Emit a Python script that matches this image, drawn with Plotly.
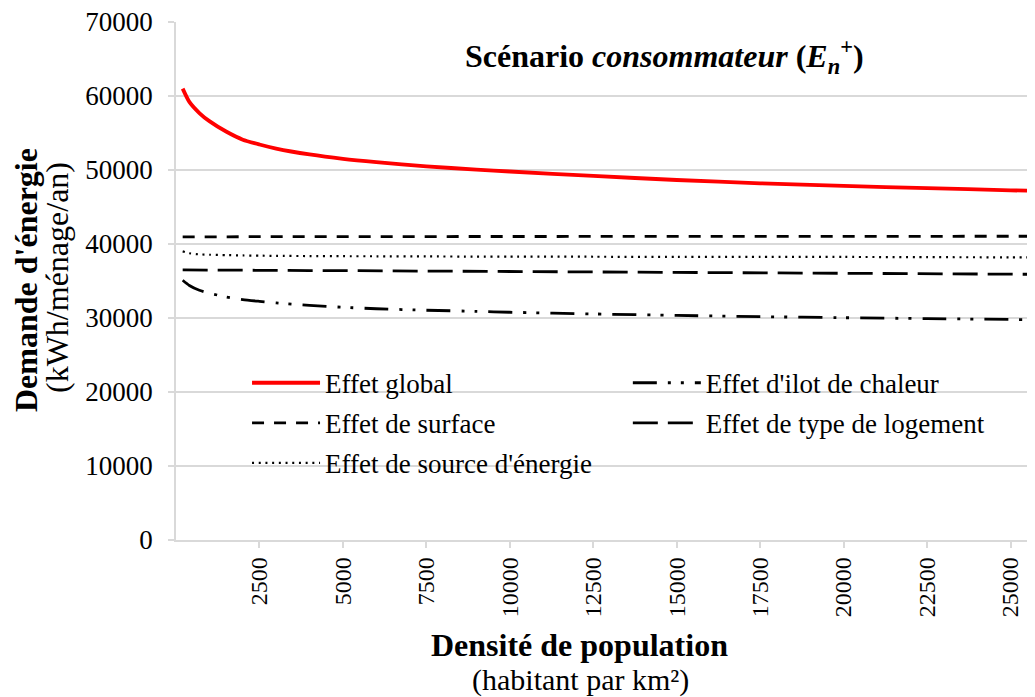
import plotly.graph_objects as go

# Population density (habitants per km2)
density = [200, 400, 700, 1000, 1500, 2000, 2500, 3000, 4000, 5000, 6000, 7500,
           9000, 10000, 12500, 15000, 17500, 20000, 22500, 25000, 26000]

# Energy demand (kWh/ménage/an)
effet_global = [61000, 59200, 57700, 56600, 55200, 54100, 53450, 52900, 52100, 51500, 51050, 50500,
                50050, 49800, 49200, 48650, 48200, 47850, 47550, 47250, 47150]
effet_ilot = [35100, 34400, 33750, 33350, 32850, 32480, 32250, 32050, 31700, 31450, 31250, 31050,
              30900, 30780, 30550, 30350, 30180, 30040, 29920, 29800, 29760]
effet_surface = [40950, 40960, 40970, 40980, 40980, 40990, 40990, 41000, 41000, 41000, 41010, 41010,
                 41020, 41020, 41030, 41030, 41040, 41040, 41050, 41050, 41050]
effet_logement = [36500, 36490, 36480, 36470, 36460, 36450, 36440, 36430, 36410, 36400, 36380, 36340,
                  36290, 36250, 36180, 36100, 36050, 36000, 35960, 35920, 35900]
effet_source = [39000, 38750, 38600, 38550, 38500, 38450, 38420, 38400, 38370, 38350, 38340, 38320,
                38300, 38300, 38280, 38250, 38250, 38250, 38220, 38200, 38200]

x_ticks = [2500, 5000, 7500, 10000, 12500, 15000, 17500, 20000, 22500, 25000]
y_ticks = [0, 10000, 20000, 30000, 40000, 50000, 60000, 70000]

FONT = "Liberation Serif"
GRID = "#d9d9d9"

fig = go.Figure()
fig.add_trace(go.Scatter(x=density, y=effet_global, mode="lines", name="Effet global",
                         legend="legend", legendgroup="g1",
                         line=dict(color="#ff0000", width=3.8, shape="spline", smoothing=0.6)))
fig.add_trace(go.Scatter(x=density, y=effet_ilot, mode="lines", name="Effet d'ilot de chaleur",
                         legend="legend2", legendgroup="g2",
                         line=dict(color="black", width=2.8, shape="spline", smoothing=0.6,
                                   dash="24px,11px,3px,10px,3px,11px")))
fig.add_trace(go.Scatter(x=density, y=effet_surface, mode="lines", name="Effet de surface",
                         legend="legend", legendgroup="g3",
                         line=dict(color="black", width=2.8, dash="12px,10px")))
fig.add_trace(go.Scatter(x=density, y=effet_logement, mode="lines", name="Effet de type de logement",
                         legend="legend2", legendgroup="g4",
                         line=dict(color="black", width=2.8, dash="25px,10px")))
fig.add_trace(go.Scatter(x=density, y=effet_source, mode="lines", name="Effet de source d'énergie",
                         legend="legend", legendgroup="g5",
                         line=dict(color="black", width=2.2, shape="spline", smoothing=0.6,
                                   dash="2px,4.7px")))

legend_common = dict(orientation="v", xanchor="left", yanchor="top", itemwidth=68,
                     font=dict(family=FONT, size=27, color="black"),
                     bgcolor="rgba(0,0,0,0)", tracegroupgap=2, traceorder="grouped")

fig.update_layout(
    width=1027, height=689,
    margin=dict(l=168, r=0, t=14, b=157),
    paper_bgcolor="white", plot_bgcolor="white",
    font=dict(family=FONT, color="black", size=26),
    showlegend=True,
    legend=dict(x=0.0827, y=0.35, **legend_common),
    legend2=dict(x=0.526, y=0.35, **legend_common),
    xaxis=dict(range=[0, 25730], tickvals=x_ticks, ticktext=[str(v) for v in x_ticks],
               tickangle=-90, tickfont=dict(family=FONT, size=24, color="black"),
               ticklabeloverflow="allow",
               showgrid=False, zeroline=False, showline=True, linecolor=GRID, linewidth=1.5,
               ticks="outside", ticklen=6, tickcolor=GRID, tickwidth=1.5),
    yaxis=dict(range=[0, 70000], tickvals=y_ticks, ticktext=[str(v) for v in y_ticks],
               tickfont=dict(family=FONT, size=27, color="black"), ticklabelstandoff=10,
               ticklabeloverflow="allow",
               showgrid=True, gridcolor=GRID, gridwidth=1.5, zeroline=False,
               showline=True, linecolor=GRID, linewidth=1.5,
               ticks="outside", ticklen=6, tickcolor=GRID, tickwidth=1.5),
    annotations=[
        dict(text="<b>Scénario <i>consommateur</i> (<i>E<sub>n</sub></i><sup>+</sup>)</b>",
             xref="paper", yref="paper", x=(664.5 - 176) / 859, y=(540 - 57) / 518,
             xanchor="center", yanchor="middle", showarrow=False,
             font=dict(family=FONT, size=32, color="black")),
        dict(text="<b>Demande d'énergie</b>",
             xref="paper", yref="paper", x=(26 - 176) / 859, y=(540 - 280) / 518,
             xanchor="center", yanchor="middle", showarrow=False, textangle=-90,
             font=dict(family=FONT, size=32, color="black")),
        dict(text="(kWh/ménage/an)",
             xref="paper", yref="paper", x=(57 - 176) / 859, y=(540 - 278) / 518,
             xanchor="center", yanchor="middle", showarrow=False, textangle=-90,
             font=dict(family=FONT, size=32, color="black")),
        dict(text="<b>Densité de population</b>",
             xref="paper", yref="paper", x=(579 - 176) / 859, y=(540 - 645) / 518,
             xanchor="center", yanchor="middle", showarrow=False,
             font=dict(family=FONT, size=32, color="black")),
        dict(text="(habitant par km²)",
             xref="paper", yref="paper", x=(580 - 176) / 859, y=(540 - 680) / 518,
             xanchor="center", yanchor="middle", showarrow=False,
             font=dict(family=FONT, size=30, color="black")),
    ],
)

fig.write_html("out.html")
